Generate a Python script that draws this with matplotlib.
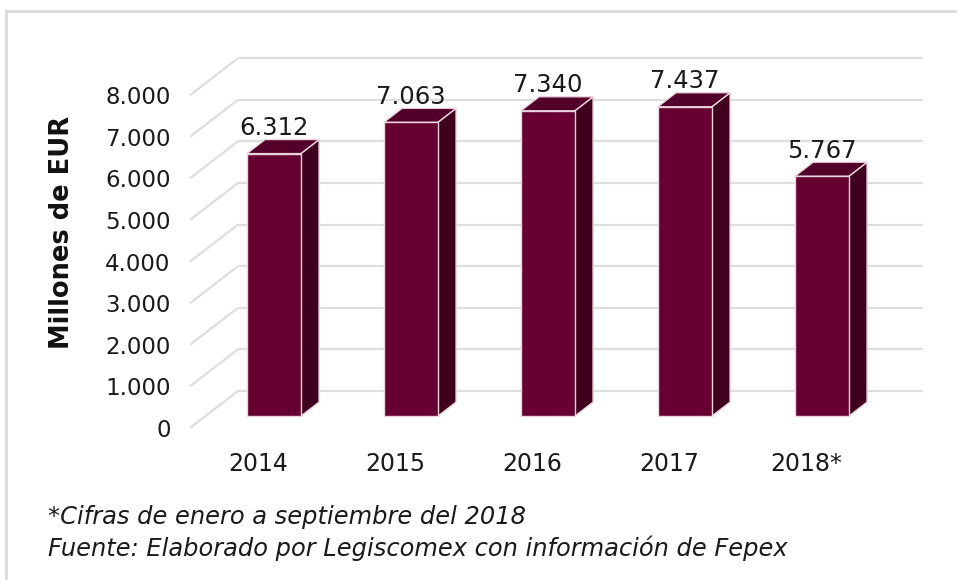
import matplotlib
matplotlib.use("Agg")
import matplotlib.pyplot as plt
from matplotlib.patches import Polygon
from matplotlib.lines import Line2D

years = ["2014", "2015", "2016", "2017", "2018*"]
values = [6312, 7063, 7340, 7437, 5767]
yticks = [0, 1000, 2000, 3000, 4000, 5000, 6000, 7000, 8000]
notes = ["*Cifras de enero a septiembre del 2018",
         "Fuente: Elaborado por Legiscomex con información de Fepex"]

W, H = 957, 580
fig = plt.figure(figsize=(W / 100, H / 100), dpi=100)

def px(x0, y0, x1, y1):
    return [x0 / W, 1 - y1 / H, (x1 - x0) / W, (y1 - y0) / H]

ax = fig.add_axes(px(190, 58, 923, 428))

# fake 3d: depth shift in data units
dx = 0.35
dy = 889
d0, d1 = 0.32, 0.70
hw = 0.197
grid_col = "#dedede"

ax.set_xlim(-0.5, -0.5 + (923 - 190) / 137)
ax.set_ylim(0, 370 / 0.0416)

xl = ax.get_xlim()
for v in yticks:
    ax.plot([xl[0], xl[0] + dx], [v, v + dy], color=grid_col, lw=1.6, zorder=1,
            solid_capstyle="butt", clip_on=False)
    ax.plot([xl[0] + dx, xl[1]], [v + dy, v + dy], color=grid_col, lw=1.6, zorder=1,
            solid_capstyle="butt", clip_on=False)

front = "#650030"
side = "#3f001e"
top = "#52002a"
edge = "#ecd4df"
for i, v in enumerate(values):
    x0 = i + d0 * dx - hw
    x1 = i + d0 * dx + hw
    b0 = d0 * dy
    b1 = d1 * dy
    sx = (d1 - d0) * dx
    ax.add_patch(Polygon([(x1, b0), (x1 + sx, b1), (x1 + sx, v + b1), (x1, v + b0)],
                         closed=True, fc=side, ec=edge, lw=1, zorder=3))
    ax.add_patch(Polygon([(x0, v + b0), (x1, v + b0), (x1 + sx, v + b1), (x0 + sx, v + b1)],
                         closed=True, fc=top, ec=edge, lw=1, zorder=3))
    ax.add_patch(Polygon([(x0, b0), (x1, b0), (x1, v + b0), (x0, v + b0)],
                         closed=True, fc=front, ec=edge, lw=1, zorder=4))
    ax.text(i + d0 * dx, v + b1 - 10, f"{v:,}".replace(",", "."), ha="center",
            va="bottom", fontsize=17.5, color="#1a1a1a", zorder=5)

ax.set_yticks(yticks)
ax.set_yticklabels([f"{v:,}".replace(",", ".") for v in yticks])
ax.set_xticks(range(len(years)))
ax.set_xticklabels(years)
ax.tick_params(axis="y", length=0, pad=14, labelsize=16.5, labelcolor="#1a1a1a")
ax.tick_params(axis="x", length=0, pad=17, labelsize=17, labelcolor="#1a1a1a")
for s in ax.spines.values():
    s.set_visible(False)
ax.patch.set_visible(False)

fig.text(62 / W, 1 - 232 / H, "Millones de EUR", rotation=90, ha="center", va="center",
         fontsize=18.5, fontweight="bold", color="#111111")

fig.text(48 / W, 1 - 517 / H, notes[0], ha="left", va="center", fontsize=17.4,
         style="italic", color="#1a1a1a")
fig.text(48 / W, 1 - 548 / H, notes[1], ha="left", va="center", fontsize=17.4,
         style="italic", color="#1a1a1a")

# outer frame
fig.add_artist(Line2D([6 / W, 1], [1 - 11 / H, 1 - 11 / H], transform=fig.transFigure,
                      color="#dadada", lw=2))
fig.add_artist(Line2D([6 / W, 6 / W], [0, 1 - 11 / H], transform=fig.transFigure,
                      color="#dadada", lw=2))

fig.savefig("out.png", dpi=100, facecolor="white")
